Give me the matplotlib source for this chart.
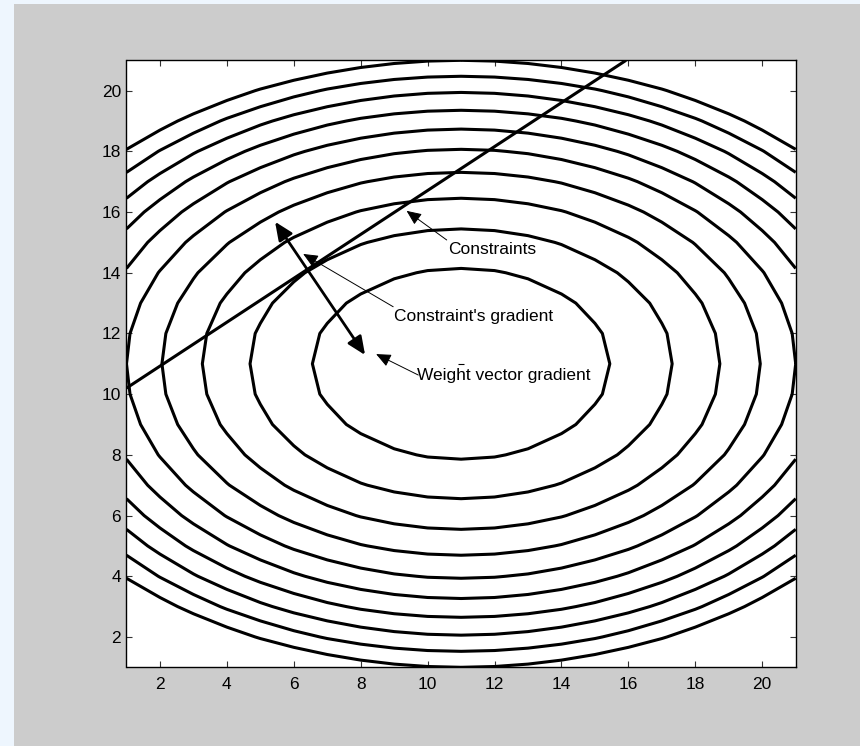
import numpy as np
import matplotlib
matplotlib.use("Agg")
import matplotlib.pyplot as plt
from matplotlib.patches import Rectangle

# ---- data ----
grid_x = np.arange(1, 22)          # 1..21 grid (MATLAB indices)
grid_y = np.arange(1, 22)
center = (11, 11)
weights = (1.0, 2.0)               # quadratic weights in x and y
levels = [20, 40, 60, 80, 100, 120, 140, 160, 180, 200]

constraint_x = [1.0, 15.93]
constraint_y = [10.2, 21.0]

grad_arrow_start = (8.13, 11.29)
grad_arrow_end = (5.44, 15.68)

labels = ["Constraints", "Constraint's gradient", "Weight vector gradient"]
label_pos = [(10.61, 14.76), (8.99, 12.55), (9.67, 10.60)]
label_tail = [(10.57, 15.08), (8.97, 12.88), (9.72, 10.63)]
label_tip = [(9.37, 16.04), (6.28, 14.62), (8.46, 11.32)]

xticks = [2, 4, 6, 8, 10, 12, 14, 16, 18, 20]
yticks = [2, 4, 6, 8, 10, 12, 14, 16, 18, 20]

FS = 12.5
plt.rcParams['font.family'] = ['Liberation Sans', 'DejaVu Sans']

fig = plt.figure(figsize=(8.6, 7.46), dpi=100)
fig.patch.set_facecolor('#eef6fe')
fig.add_artist(Rectangle((14 / 860, 0), 1 - 14 / 860, 1 - 4 / 746,
                         transform=fig.transFigure, facecolor='#cccccc',
                         edgecolor='none', zorder=0))

ax = fig.add_axes([126.5 / 860, 78.7 / 746, (795.7 - 126.5) / 860, (667.3 - 60.3) / 746])
ax.set_facecolor('white')

X, Y = np.meshgrid(grid_x, grid_y)
Z = weights[0] * (X - center[0]) ** 2 + weights[1] * (Y - center[1]) ** 2
ax.contour(X, Y, Z, levels=levels, colors='black', linewidths=2.2)

ax.plot(constraint_x, constraint_y, color='black', lw=2.2, clip_on=True,
        solid_capstyle='butt')

ax.plot([center[0]], [center[1]], marker='_', color='black', ms=4, mew=0.8)

ax.annotate('', xy=grad_arrow_end, xytext=grad_arrow_start,
            arrowprops=dict(arrowstyle='<|-|>,head_length=0.5,head_width=0.22',
                            color='black', lw=2.0,
                            mutation_scale=22, shrinkA=0, shrinkB=0))

for lab, pos, tail, tip in zip(labels, label_pos, label_tail, label_tip):
    ax.text(pos[0], pos[1], lab, ha='left', va='center', fontsize=FS, color='black')
    ax.annotate('', xy=tip, xytext=tail,
                arrowprops=dict(arrowstyle='-|>,head_length=0.5,head_width=0.22',
                                color='black', lw=0.7,
                                mutation_scale=18, shrinkA=0, shrinkB=0))

ax.set_xlim(1, 21)
ax.set_ylim(1, 21)
ax.set_xticks(xticks)
ax.set_yticks(yticks)
ax.tick_params(direction='in', length=4.5, width=0.8, color='#333333',
               top=True, right=True, labelsize=FS, labelcolor='black')
ax.tick_params(axis='x', pad=7)
ax.tick_params(axis='y', pad=4)
for sp in ax.spines.values():
    sp.set_linewidth(1.0)
    sp.set_color('black')

fig.savefig('out.png', dpi=100, facecolor=fig.get_facecolor())
